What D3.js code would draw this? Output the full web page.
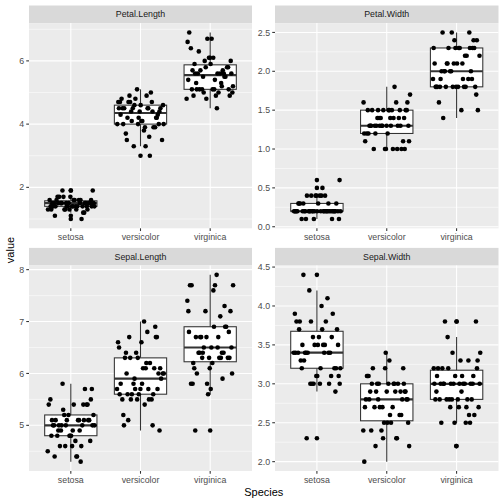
<!DOCTYPE html>
<html><head><meta charset="utf-8">
<script src="https://cdn.jsdelivr.net/npm/d3@7"></script>
<style>body{margin:0;background:#fff}svg{display:block}text{font-family:"Liberation Sans",Arial,Helvetica,sans-serif}</style>
</head><body><script>
const species = ["setosa", "versicolor", "virginica"];
const speciesCount = [50, 50, 50];
const measures = ["Petal.Length", "Petal.Width", "Sepal.Length", "Sepal.Width"];

const sepalLength = [5.1,4.9,4.7,4.6,5.0,5.4,4.6,5.0,4.4,4.9,5.4,4.8,4.8,4.3,5.8,5.7,5.4,5.1,5.7,5.1,5.4,5.1,4.6,5.1,4.8,5.0,5.0,5.2,5.2,4.7,4.8,5.4,5.2,5.5,4.9,5.0,5.5,4.9,4.4,5.1,5.0,4.5,4.4,5.0,5.1,4.8,5.1,4.6,5.3,5.0,
7.0,6.4,6.9,5.5,6.5,5.7,6.3,4.9,6.6,5.2,5.0,5.9,6.0,6.1,5.6,6.7,5.6,5.8,6.2,5.6,5.9,6.1,6.3,6.1,6.4,6.6,6.8,6.7,6.0,5.7,5.5,5.5,5.8,6.0,5.4,6.0,6.7,6.3,5.6,5.5,5.5,6.1,5.8,5.0,5.6,5.7,5.7,6.2,5.1,5.7,
6.3,5.8,7.1,6.3,6.5,7.6,4.9,7.3,6.7,7.2,6.5,6.4,6.8,5.7,5.8,6.4,6.5,7.7,7.7,6.0,6.9,5.6,7.7,6.3,6.7,7.2,6.2,6.1,6.4,7.2,7.4,7.9,6.4,6.3,6.1,7.7,6.3,6.4,6.0,6.9,6.7,6.9,5.8,6.8,6.7,6.7,6.3,6.5,6.2,5.9];
const sepalWidth = [3.5,3.0,3.2,3.1,3.6,3.9,3.4,3.4,2.9,3.1,3.7,3.4,3.0,3.0,4.0,4.4,3.9,3.5,3.8,3.8,3.4,3.7,3.6,3.3,3.4,3.0,3.4,3.5,3.4,3.2,3.1,3.4,4.1,4.2,3.1,3.2,3.5,3.6,3.0,3.4,3.5,2.3,3.2,3.5,3.8,3.0,3.8,3.2,3.7,3.3,
3.2,3.2,3.1,2.3,2.8,2.8,3.3,2.4,2.9,2.7,2.0,3.0,2.2,2.9,2.9,3.1,3.0,2.7,2.2,2.5,3.2,2.8,2.5,2.8,2.9,3.0,2.8,3.0,2.9,2.6,2.4,2.4,2.7,2.7,3.0,3.4,3.1,2.3,3.0,2.5,2.6,3.0,2.6,2.3,2.7,3.0,2.9,2.9,2.5,2.8,
3.3,2.7,3.0,2.9,3.0,3.0,2.5,2.9,2.5,3.6,3.2,2.7,3.0,2.5,2.8,3.2,3.0,3.8,2.6,2.2,3.2,2.8,2.8,2.7,3.3,3.2,2.8,3.0,2.8,3.0,2.8,3.8,2.8,2.8,2.6,3.0,3.4,3.1,3.0,3.1,3.1,3.1,2.7,3.2,3.3,3.0,2.5,3.0,3.4,3.0];
const petalLength = [1.4,1.4,1.3,1.5,1.4,1.7,1.4,1.5,1.4,1.5,1.5,1.6,1.4,1.1,1.2,1.5,1.3,1.4,1.7,1.5,1.7,1.5,1.0,1.7,1.9,1.6,1.6,1.5,1.4,1.6,1.6,1.5,1.5,1.4,1.5,1.2,1.3,1.4,1.3,1.5,1.3,1.3,1.3,1.6,1.9,1.4,1.6,1.4,1.5,1.4,
4.7,4.5,4.9,4.0,4.6,4.5,4.7,3.3,4.6,3.9,3.5,4.2,4.0,4.7,3.6,4.4,4.5,4.1,4.5,3.9,4.8,4.0,4.9,4.7,4.3,4.4,4.8,5.0,4.5,3.5,3.8,3.7,3.9,5.1,4.5,4.5,4.7,4.4,4.1,4.0,4.4,4.6,4.0,3.3,4.2,4.2,4.2,4.3,3.0,4.1,
6.0,5.1,5.9,5.6,5.8,6.6,4.5,6.3,5.8,6.1,5.1,5.3,5.5,5.0,5.1,5.3,5.5,6.7,6.9,5.0,5.7,4.9,6.7,4.9,5.7,6.0,4.8,4.9,5.6,5.8,6.1,6.4,5.6,5.1,5.6,6.1,5.6,5.5,4.8,5.4,5.6,5.1,5.1,5.9,5.7,5.2,5.0,5.2,5.4,5.1];
const petalWidth = [0.2,0.2,0.2,0.2,0.2,0.4,0.3,0.2,0.2,0.1,0.2,0.2,0.1,0.1,0.2,0.4,0.4,0.3,0.3,0.3,0.2,0.4,0.2,0.5,0.2,0.2,0.4,0.2,0.2,0.2,0.2,0.4,0.1,0.2,0.2,0.2,0.2,0.1,0.2,0.2,0.3,0.3,0.2,0.6,0.4,0.3,0.2,0.2,0.2,0.2,
1.4,1.5,1.5,1.3,1.5,1.3,1.6,1.0,1.3,1.4,1.0,1.5,1.0,1.4,1.3,1.4,1.5,1.0,1.5,1.1,1.8,1.3,1.5,1.2,1.3,1.4,1.4,1.7,1.5,1.0,1.1,1.0,1.2,1.6,1.5,1.6,1.5,1.3,1.3,1.3,1.2,1.4,1.2,1.0,1.3,1.2,1.3,1.3,1.1,1.3,
2.5,1.9,2.1,1.8,2.2,2.1,1.7,1.8,1.8,2.5,2.0,1.9,2.1,2.0,2.4,2.3,1.8,2.2,2.3,1.5,2.3,2.0,2.0,1.8,2.1,1.8,1.8,1.8,2.1,1.6,1.9,2.0,2.2,1.5,1.4,2.3,2.4,1.8,1.8,2.1,2.4,2.3,1.9,2.3,2.5,2.3,1.9,2.0,2.3,1.8];

const ticksPetalLength = [2, 4, 6];
const ticksPetalWidth = [0, 0.5, 1, 1.5, 2, 2.5];
const ticksSepalLength = [5, 6, 7, 8];
const ticksSepalWidth = [2, 2.5, 3, 3.5, 4, 4.5];

const rowSpecies = species.flatMap((s, i) => Array(speciesCount[i]).fill(s));
const valuesBy = {"Petal.Length": petalLength, "Petal.Width": petalWidth, "Sepal.Length": sepalLength, "Sepal.Width": sepalWidth};
const ticksBy = {"Petal.Length": ticksPetalLength, "Petal.Width": ticksPetalWidth, "Sepal.Length": ticksSepalLength, "Sepal.Width": ticksSepalWidth};
const fmtBy = {"Petal.Length": d3.format("d"), "Petal.Width": d3.format(".1f"), "Sepal.Length": d3.format("d"), "Sepal.Width": d3.format(".1f")};

const W = 504, H = 504;
const cols = [[29, 252], [275, 498.5]];
const rows = [{st: 5.5, pt: 23.1, pb: 228.3}, {st: 247.9, pt: 265.5, pb: 471}];

const svg = d3.select("body").append("svg").attr("width", W).attr("height", H);
svg.append("rect").attr("width", W).attr("height", H).attr("fill", "#fff");

const grey20 = "#333333", grey30 = "#4D4D4D";

// deterministic horizontal jitter offsets (golden-ratio sequence)
function jitter(i, f) { const v = (i * 0.6180339887 + f * 0.2718 + 0.13) % 1; return v * 2 - 1; }

measures.forEach((m, fi) => {
  const [x0, x1] = cols[fi % 2];
  const r = rows[Math.floor(fi / 2)];
  const vals = valuesBy[m];
  const ext = d3.extent(vals);
  const pad = (ext[1] - ext[0]) * 0.05;
  const y = d3.scaleLinear().domain([ext[0] - pad, ext[1] + pad]).range([r.pb, r.pt]);
  const x = d3.scaleLinear().domain([0.4, 3.6]).range([x0, x1]);
  const step = x(2) - x(1);
  const g = svg.append("g");

  // strip
  g.append("rect").attr("x", x0).attr("y", r.st).attr("width", x1 - x0).attr("height", r.pt - r.st).attr("fill", "#D9D9D9");
  g.append("text").attr("x", (x0 + x1) / 2).attr("y", (r.st + r.pt) / 2).attr("dy", "0.35em")
    .attr("text-anchor", "middle").attr("font-size", 8.8).attr("fill", "#1A1A1A").text(m);

  // panel
  g.append("rect").attr("x", x0).attr("y", r.pt).attr("width", x1 - x0).attr("height", r.pb - r.pt).attr("fill", "#EBEBEB");
  const ticks = ticksBy[m];
  const tstep = ticks[1] - ticks[0];
  const minors = [];
  for (let t = ticks[0] - tstep / 2; t <= y.domain()[1]; t += tstep) if (t >= y.domain()[0]) minors.push(t);
  g.selectAll(".minor").data(minors).join("line").attr("x1", x0).attr("x2", x1)
    .attr("y1", d => y(d)).attr("y2", d => y(d)).attr("stroke", "#fff").attr("stroke-width", 0.53);
  g.selectAll(".major").data(ticks).join("line").attr("x1", x0).attr("x2", x1)
    .attr("y1", d => y(d)).attr("y2", d => y(d)).attr("stroke", "#fff").attr("stroke-width", 1.07);
  g.selectAll(".vmajor").data(species).join("line").attr("y1", r.pt).attr("y2", r.pb)
    .attr("x1", (d, i) => x(i + 1)).attr("x2", (d, i) => x(i + 1)).attr("stroke", "#fff").attr("stroke-width", 1.07);

  // y axis
  ticks.forEach(t => {
    g.append("line").attr("x1", x0 - 2.75).attr("x2", x0).attr("y1", y(t)).attr("y2", y(t)).attr("stroke", grey20).attr("stroke-width", 1.07);
    g.append("text").attr("x", x0 - 4.95).attr("y", y(t)).attr("dy", "0.35em").attr("text-anchor", "end")
      .attr("font-size", 8.8).attr("fill", grey30).text(fmtBy[m](t));
  });
  // x axis
  species.forEach((s, i) => {
    g.append("line").attr("x1", x(i + 1)).attr("x2", x(i + 1)).attr("y1", r.pb).attr("y2", r.pb + 2.75).attr("stroke", grey20).attr("stroke-width", 1.07);
    g.append("text").attr("x", x(i + 1)).attr("y", r.pb + 4.95).attr("dy", "0.75em").attr("text-anchor", "middle")
      .attr("font-size", 8.8).attr("fill", grey30).text(s);
  });

  // boxplots
  species.forEach((s, si) => {
    const v = vals.filter((d, i) => rowSpecies[i] === s).sort(d3.ascending);
    const q1 = d3.quantile(v, 0.25), med = d3.quantile(v, 0.5), q3 = d3.quantile(v, 0.75);
    const iqr = q3 - q1;
    const lo = d3.min(v.filter(d => d >= q1 - 1.5 * iqr));
    const hi = d3.max(v.filter(d => d <= q3 + 1.5 * iqr));
    const outl = v.filter(d => d < q1 - 1.5 * iqr || d > q3 + 1.5 * iqr);
    const cx = x(si + 1), hw = step * 0.375;
    g.append("line").attr("x1", cx).attr("x2", cx).attr("y1", y(q3)).attr("y2", y(hi)).attr("stroke", grey20).attr("stroke-width", 1.07);
    g.append("line").attr("x1", cx).attr("x2", cx).attr("y1", y(q1)).attr("y2", y(lo)).attr("stroke", grey20).attr("stroke-width", 1.07);
    g.append("rect").attr("x", cx - hw).attr("y", y(q3)).attr("width", 2 * hw).attr("height", y(q1) - y(q3))
      .attr("fill", "#fff").attr("stroke", grey20).attr("stroke-width", 1.07);
    g.append("line").attr("x1", cx - hw).attr("x2", cx + hw).attr("y1", y(med)).attr("y2", y(med)).attr("stroke", grey20).attr("stroke-width", 2.13);
    outl.forEach(o => g.append("circle").attr("cx", cx).attr("cy", y(o)).attr("r", 2.3).attr("fill", "#000"));
  });

  // jittered points
  g.selectAll(".pt").data(vals).join("circle")
    .attr("cx", (d, i) => x(species.indexOf(rowSpecies[i]) + 1) + jitter(i, fi) * 0.34 * step)
    .attr("cy", d => y(d)).attr("r", 2.3).attr("fill", "#000");
});

// axis titles
svg.append("text").attr("x", (cols[0][0] + cols[1][1]) / 2).attr("y", 496).attr("text-anchor", "middle")
  .attr("font-size", 11).attr("fill", "#000").text("Species");
svg.append("text").attr("transform", "translate(14,250) rotate(-90)").attr("text-anchor", "middle")
  .attr("font-size", 11).attr("fill", "#000").text("value");
</script></body></html>
